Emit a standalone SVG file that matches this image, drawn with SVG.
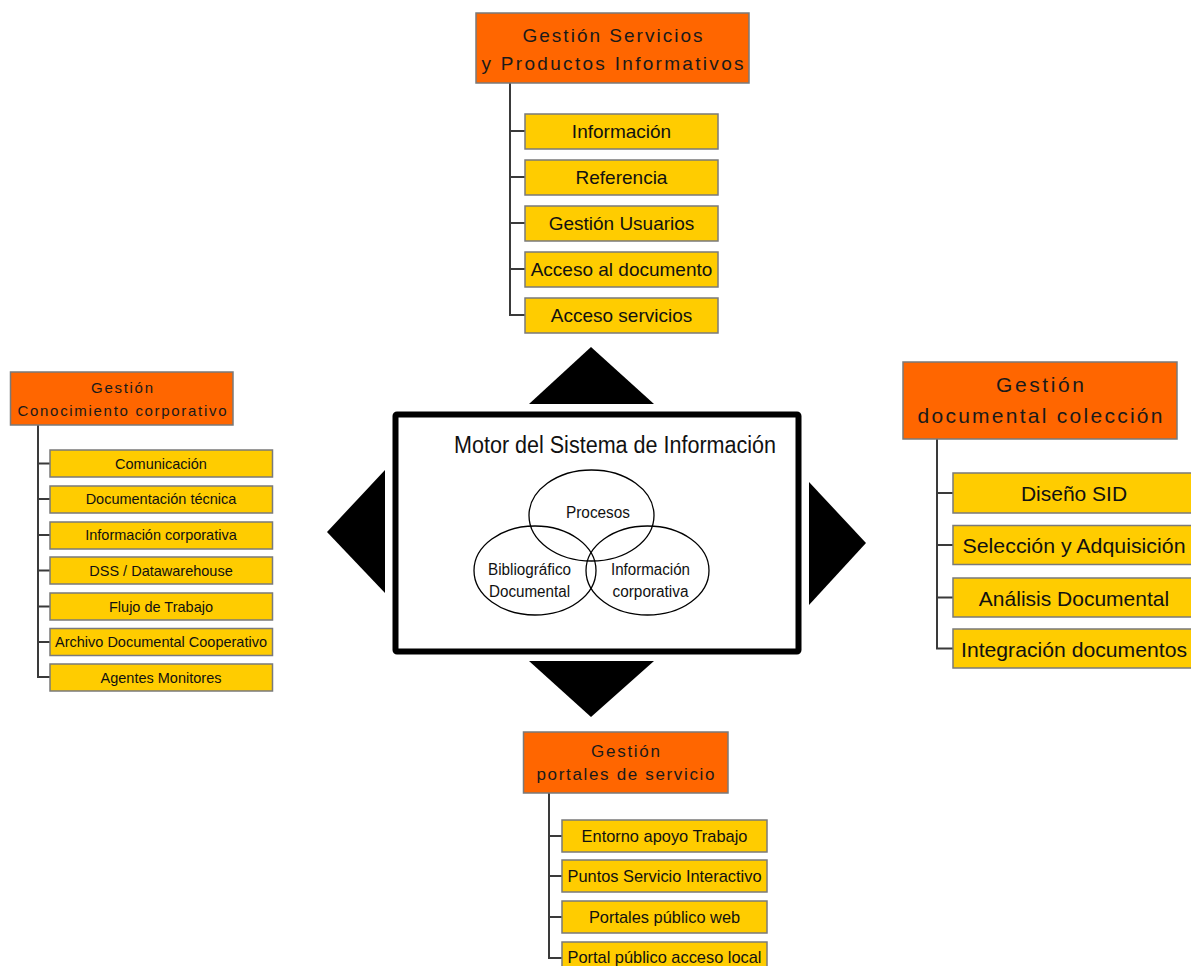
<svg xmlns="http://www.w3.org/2000/svg" width="1191" height="966" viewBox="0 0 1191 966">
  <style>
    .head { fill: #FF6600; stroke: #7a7a7a; stroke-width: 1.5; }
    .item { fill: #FFCC00; stroke: #7a7a7a; stroke-width: 1.5; }
    .ht { font-family: "Liberation Sans", Arial, sans-serif; fill: #1a1a1a; text-anchor: middle; }
    .it { font-family: "Liberation Sans", Arial, sans-serif; fill: #111; text-anchor: middle; }
    .nar { font-family: "Liberation Sans Narrow", "Liberation Sans", Arial, sans-serif; fill: #111; text-anchor: middle; }
    .wire { fill: none; stroke: #3a3a3a; stroke-width: 2; }
    .arrow { fill: #000; }
  </style>
  <rect width="1191" height="966" fill="#fff"/>

  <!-- connectors: trunk lines and stubs to each item -->
  <g id="connectors">
    <path class="wire" d="M510 83 V315 H525 M510 131 H525 M510 177 H525 M510 223 H525 M510 269 H525"/>
    <path class="wire" d="M38 425 V677 H50 M38 463.5 H50 M38 499 H50 M38 535 H50 M38 570.5 H50 M38 606.5 H50 M38 642 H50"/>
    <path class="wire" d="M937 439 V648.5 H953 M937 493 H953 M937 545 H953 M937 597.5 H953"/>
    <path class="wire" d="M549 793 V958 H562 M549 836 H562 M549 876 H562 M549 917 H562"/>
  </g>

  <!-- top branch -->
  <g id="servicios">
    <rect class="head" x="476" y="13" width="273" height="70"/>
    <text class="ht" x="612.5" y="41.5" font-size="19" textLength="180" lengthAdjust="spacing">Gestión Servicios</text>
    <text class="ht" x="612.5" y="70" font-size="19" textLength="262" lengthAdjust="spacing">y Productos Informativos</text>
  </g>
  <g id="s-informacion"><rect class="item" x="525" y="114" width="193" height="35"/><text class="it" x="621.5" y="138" font-size="19">Información</text></g>
  <g id="s-referencia"><rect class="item" x="525" y="160" width="193" height="35"/><text class="it" x="621.5" y="184" font-size="19">Referencia</text></g>
  <g id="s-usuarios"><rect class="item" x="525" y="206" width="193" height="35"/><text class="it" x="621.5" y="230" font-size="19">Gestión Usuarios</text></g>
  <g id="s-acceso-doc"><rect class="item" x="525" y="252" width="193" height="35"/><text class="it" x="621.5" y="276" font-size="19">Acceso al documento</text></g>
  <g id="s-acceso-serv"><rect class="item" x="525" y="298" width="193" height="35"/><text class="it" x="621.5" y="322" font-size="19">Acceso servicios</text></g>

  <!-- left branch -->
  <g id="conocimiento">
    <rect class="head" x="10.5" y="372" width="222.5" height="53"/>
    <text class="ht" x="122" y="393" font-size="15" textLength="62" lengthAdjust="spacing">Gestión</text>
    <text class="ht" x="122" y="416" font-size="15" textLength="209" lengthAdjust="spacing">Conocimiento corporativo</text>
  </g>
  <g id="c-comunicacion"><rect class="item" x="50" y="450" width="222.5" height="27"/><text class="it" x="161" y="468.5" font-size="14.5">Comunicación</text></g>
  <g id="c-doc-tecnica"><rect class="item" x="50" y="486" width="222.5" height="27"/><text class="it" x="161" y="504" font-size="14.5">Documentación técnica</text></g>
  <g id="c-info-corp"><rect class="item" x="50" y="522" width="222.5" height="27"/><text class="it" x="161" y="540" font-size="14.5">Información corporativa</text></g>
  <g id="c-dss"><rect class="item" x="50" y="557" width="222.5" height="27"/><text class="it" x="161" y="575.5" font-size="14.5">DSS / Datawarehouse</text></g>
  <g id="c-flujo"><rect class="item" x="50" y="593" width="222.5" height="27"/><text class="it" x="161" y="611.5" font-size="14.5">Flujo de Trabajo</text></g>
  <g id="c-archivo"><rect class="item" x="50" y="628.5" width="222.5" height="27"/><text class="it" x="161" y="647" font-size="14.5">Archivo Documental Cooperativo</text></g>
  <g id="c-agentes"><rect class="item" x="50" y="664" width="222.5" height="27"/><text class="it" x="161" y="682.5" font-size="14.5">Agentes Monitores</text></g>

  <!-- right branch -->
  <g id="coleccion">
    <rect class="head" x="903" y="362" width="274" height="77"/>
    <text class="ht" x="1040" y="392" font-size="21" textLength="88" lengthAdjust="spacing">Gestión</text>
    <text class="ht" x="1040" y="423" font-size="21" textLength="245" lengthAdjust="spacing">documental colección</text>
  </g>
  <g id="d-diseno"><rect class="item" x="953" y="473" width="242" height="40"/><text class="it" x="1074" y="501" font-size="21">Diseño SID</text></g>
  <g id="d-seleccion"><rect class="item" x="953" y="525.5" width="242" height="39"/><text class="it" x="1074" y="553" font-size="21" textLength="223" lengthAdjust="spacingAndGlyphs">Selección y Adquisición</text></g>
  <g id="d-analisis"><rect class="item" x="953" y="578" width="242" height="39"/><text class="it" x="1074" y="605.5" font-size="21">Análisis Documental</text></g>
  <g id="d-integracion"><rect class="item" x="953" y="629" width="242" height="39"/><text class="it" x="1074" y="656.5" font-size="21" textLength="226" lengthAdjust="spacingAndGlyphs">Integración documentos</text></g>

  <!-- bottom branch -->
  <g id="portales">
    <rect class="head" x="523.5" y="732" width="204.5" height="61"/>
    <text class="ht" x="625.5" y="757" font-size="17" textLength="69" lengthAdjust="spacing">Gestión</text>
    <text class="ht" x="625.5" y="780" font-size="17" textLength="178" lengthAdjust="spacing">portales de servicio</text>
  </g>
  <g id="p-entorno"><rect class="item" x="562" y="820" width="205" height="32"/><text class="it" x="664.5" y="842" font-size="16.4">Entorno apoyo Trabajo</text></g>
  <g id="p-puntos"><rect class="item" x="562" y="860" width="205" height="32"/><text class="it" x="664.5" y="882" font-size="16.4">Puntos Servicio Interactivo</text></g>
  <g id="p-web"><rect class="item" x="562" y="901" width="205" height="32"/><text class="it" x="664.5" y="923" font-size="16.4">Portales público web</text></g>
  <g id="p-local"><rect class="item" x="562" y="942" width="205" height="32"/><text class="it" x="664.5" y="963" font-size="16.4">Portal público acceso local</text></g>

  <!-- direction triangles around the engine -->
  <g id="arrows">
    <polygon class="arrow" points="591,347 654,404 529,404"/>
    <polygon class="arrow" points="529,661 654,661 591,717"/>
    <polygon class="arrow" points="385,470 385,593 327,532"/>
    <polygon class="arrow" points="809,482 866,543 809,605"/>
  </g>

  <!-- central engine -->
  <g id="motor">
    <rect x="395.5" y="414.5" width="403" height="237" fill="#fff" stroke="#000" stroke-width="6" rx="1.5"/>
    <text class="nar" x="615" y="453" font-size="23" textLength="322" lengthAdjust="spacingAndGlyphs">Motor del Sistema de Información</text>
    <g fill="none" stroke="#000" stroke-width="1.3">
      <ellipse cx="591.5" cy="515.5" rx="62.5" ry="45.5"/>
      <ellipse cx="535" cy="570.5" rx="61" ry="44.5"/>
      <ellipse cx="647.5" cy="570.5" rx="61.5" ry="44.5"/>
    </g>
    <text class="nar" x="598" y="518" font-size="16" fill="#222" textLength="64" lengthAdjust="spacingAndGlyphs">Procesos</text>
    <text class="nar" x="529.5" y="575" font-size="16" fill="#222" textLength="83" lengthAdjust="spacingAndGlyphs">Bibliográfico</text>
    <text class="nar" x="529.5" y="597" font-size="16" fill="#222" textLength="81" lengthAdjust="spacingAndGlyphs">Documental</text>
    <text class="nar" x="650.5" y="575" font-size="16" fill="#222" textLength="79" lengthAdjust="spacingAndGlyphs">Información</text>
    <text class="nar" x="650.5" y="597" font-size="16" fill="#222" textLength="76" lengthAdjust="spacingAndGlyphs">corporativa</text>
  </g>
</svg>
